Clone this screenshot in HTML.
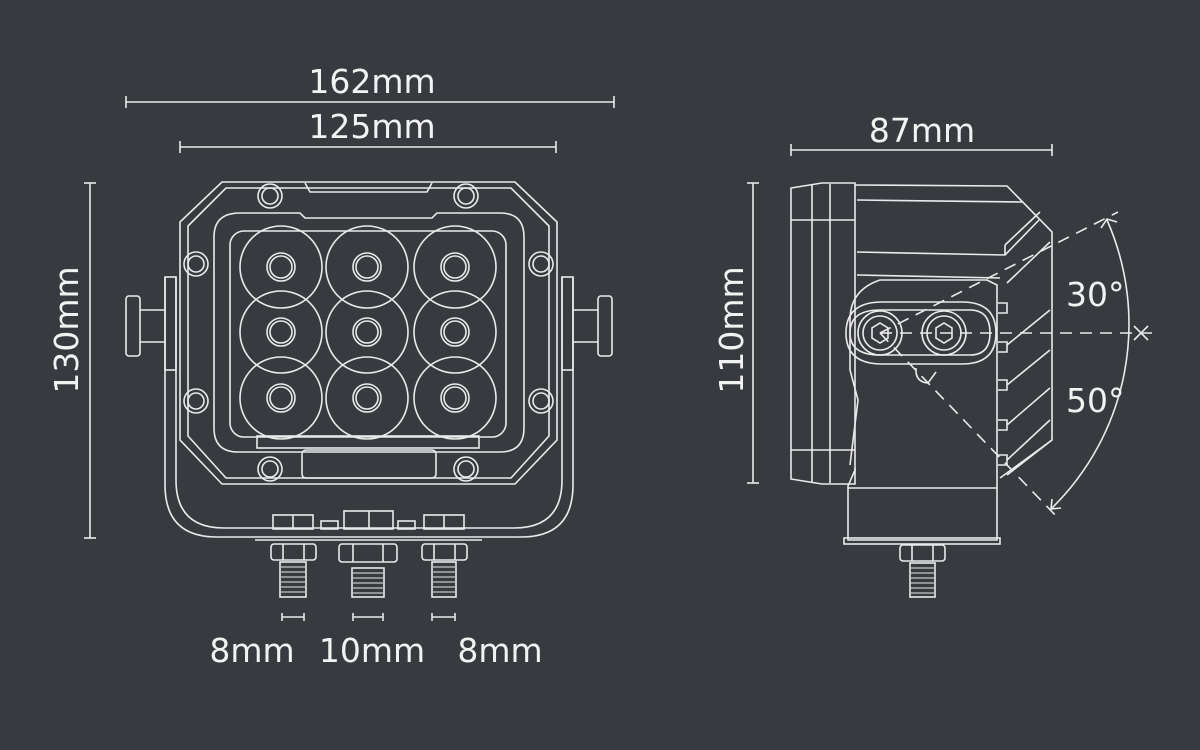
<!DOCTYPE html>
<html><head><meta charset="utf-8"><style>
html,body{margin:0;padding:0;background:#373b3f;}
svg{display:block}
text{font-family:"DejaVu Sans","Liberation Sans",sans-serif;fill:#f2f2f2;font-size:33px}
</style></head><body>
<svg width="1200" height="750" viewBox="0 0 1200 750" xmlns="http://www.w3.org/2000/svg">
<rect width="1200" height="750" fill="#373b3f"/>
<g stroke="#eaeaea" stroke-width="1.6" fill="none">
<!-- dimension lines -->
<line x1="126" y1="102" x2="614" y2="102"/><line x1="126" y1="96" x2="126" y2="108"/><line x1="614" y1="96" x2="614" y2="108"/>
<line x1="180" y1="147" x2="556" y2="147"/><line x1="180" y1="141" x2="180" y2="153"/><line x1="556" y1="141" x2="556" y2="153"/>
<line x1="90" y1="183" x2="90" y2="538"/><line x1="84" y1="183" x2="96" y2="183"/><line x1="84" y1="538" x2="96" y2="538"/>
<line x1="791" y1="150" x2="1052" y2="150"/><line x1="791" y1="144" x2="791" y2="156"/><line x1="1052" y1="144" x2="1052" y2="156"/>
<line x1="753" y1="183" x2="753" y2="483"/><line x1="747" y1="183" x2="759" y2="183"/><line x1="747" y1="483" x2="759" y2="483"/>
<line x1="282" y1="617" x2="304" y2="617"/><line x1="282" y1="613" x2="282" y2="621"/><line x1="304" y1="613" x2="304" y2="621"/>
<line x1="353" y1="617" x2="383" y2="617"/><line x1="353" y1="613" x2="353" y2="621"/><line x1="383" y1="613" x2="383" y2="621"/>
<line x1="432" y1="617" x2="455" y2="617"/><line x1="432" y1="613" x2="432" y2="621"/><line x1="455" y1="613" x2="455" y2="621"/>

<!-- FRONT VIEW -->
<!-- bracket -->
<path d="M165 277 V485 Q165 537 217 537 H521 Q573 537 573 485 V277"/>
<path d="M176 277 V480 Q176 528 224 528 H514 Q562 528 562 480 V277"/>
<rect x="165" y="277" width="11" height="93"/><rect x="562" y="277" width="11" height="93"/>
<rect x="126" y="296" width="14" height="60" rx="3"/><line x1="140" y1="310" x2="165" y2="310"/><line x1="140" y1="342" x2="165" y2="342"/>
<rect x="598" y="296" width="14" height="60" rx="3"/><line x1="573" y1="310" x2="598" y2="310"/><line x1="573" y1="342" x2="598" y2="342"/>
<!-- housing -->
<path d="M222 182 H515 L557 222 V440 L515 484 H222 L180 440 V222 Z" fill="#373b3f"/>
<path d="M226 188 H511 L549 226 V436 L511 478 H226 L188 436 V226 Z"/>
<path d="M305 183 L310 192 H427 L432 183"/>
<path d="M240 213 H300 L305 218 H432 L437 213 H500 Q524 213 524 237 V428 Q524 452 500 452 H238 Q214 452 214 428 V237 Q214 213 240 213 Z"/>
<rect x="302" y="450" width="134" height="28" rx="4"/>
<rect x="230" y="231" width="276" height="206" rx="14"/>
<rect x="257" y="436" width="222" height="12"/>
<g>
<circle cx="281" cy="267" r="41"/><circle cx="367" cy="267" r="41"/><circle cx="455" cy="267" r="41"/>
<circle cx="281" cy="332" r="41"/><circle cx="367" cy="332" r="41"/><circle cx="455" cy="332" r="41"/>
<circle cx="281" cy="398" r="41"/><circle cx="367" cy="398" r="41"/><circle cx="455" cy="398" r="41"/>
</g>
<g>
<circle cx="281" cy="267" r="14"/><circle cx="367" cy="267" r="14"/><circle cx="455" cy="267" r="14"/>
<circle cx="281" cy="332" r="14"/><circle cx="367" cy="332" r="14"/><circle cx="455" cy="332" r="14"/>
<circle cx="281" cy="398" r="14"/><circle cx="367" cy="398" r="14"/><circle cx="455" cy="398" r="14"/>
<circle cx="281" cy="267" r="11"/><circle cx="367" cy="267" r="11"/><circle cx="455" cy="267" r="11"/>
<circle cx="281" cy="332" r="11"/><circle cx="367" cy="332" r="11"/><circle cx="455" cy="332" r="11"/>
<circle cx="281" cy="398" r="11"/><circle cx="367" cy="398" r="11"/><circle cx="455" cy="398" r="11"/>
</g>
<!-- bolts -->
<g>
<circle cx="270" cy="196" r="12"/><circle cx="270" cy="196" r="8"/>
<circle cx="466" cy="196" r="12"/><circle cx="466" cy="196" r="8"/>
<circle cx="196" cy="264" r="12"/><circle cx="196" cy="264" r="8"/>
<circle cx="541" cy="264" r="12"/><circle cx="541" cy="264" r="8"/>
<circle cx="196" cy="401" r="12"/><circle cx="196" cy="401" r="8"/>
<circle cx="541" cy="401" r="12"/><circle cx="541" cy="401" r="8"/>
<circle cx="270" cy="469" r="12"/><circle cx="270" cy="469" r="8"/>
<circle cx="466" cy="469" r="12"/><circle cx="466" cy="469" r="8"/>
</g>
<!-- bottom connectors -->
<rect x="273" y="515" width="40" height="14"/><line x1="293" y1="515" x2="293" y2="529"/>
<rect x="344" y="511" width="49" height="18"/><line x1="369" y1="511" x2="369" y2="529"/>
<rect x="424" y="515" width="40" height="14"/><line x1="444" y1="515" x2="444" y2="529"/>
<rect x="321" y="521" width="17" height="8"/><rect x="398" y="521" width="17" height="8"/>
<line x1="255" y1="540" x2="482" y2="540"/>
<rect x="271" y="544" width="45" height="16" rx="3"/><line x1="283" y1="544" x2="283" y2="560"/><line x1="304" y1="544" x2="304" y2="560"/>
<rect x="339" y="544" width="58" height="18" rx="3"/><line x1="353" y1="544" x2="353" y2="562"/><line x1="383" y1="544" x2="383" y2="562"/>
<rect x="422" y="544" width="45" height="16" rx="3"/><line x1="434" y1="544" x2="434" y2="560"/><line x1="455" y1="544" x2="455" y2="560"/>
<rect x="280" y="562" width="26" height="35"/><rect x="352" y="568" width="32" height="29"/><rect x="432" y="562" width="24" height="35"/>
</g>
<g stroke="#eaeaea" stroke-width="1">
<path d="M281 567 h24 M281 572 h24 M281 577 h24 M281 582 h24 M281 587 h24 M281 592 h24"/>
<path d="M353 573 h30 M353 578 h30 M353 583 h30 M353 588 h30 M353 593 h30"/>
<path d="M433 567 h22 M433 572 h22 M433 577 h22 M433 582 h22 M433 587 h22 M433 592 h22"/>
</g>

<!-- SIDE VIEW -->
<g stroke="#eaeaea" stroke-width="1.6" fill="none">
<path d="M791 188 L822 183 H855 V484 H822 L791 479 Z"/>
<line x1="812" y1="184" x2="812" y2="483"/><line x1="830" y1="184" x2="830" y2="483"/>
<line x1="791" y1="220" x2="855" y2="220"/><line x1="791" y1="450" x2="855" y2="450"/>
<path d="M855 185 L1007 186 L1052 232 V440 L1000 478"/>
<path d="M857 200 L1022 202"/>
<path d="M857 252 L1005 255 L1039 220"/><path d="M857 275 L1000 278"/>
<path d="M1005 245 V255 M1005 245 L1040 212"/>
<path d="M1007 283 L1050 242 M1007 345 L1050 310 M1007 385 L1050 350 M1007 425 L1050 388 M1007 460 L1050 420 M1007 475 L1052 440"/>
<path d="M998 303 h9 v10 h-9 M998 342 h9 v10 h-9 M998 380 h9 v10 h-9 M998 420 h9 v10 h-9 M998 455 h9 v10 h-9"/>
<path d="M855 468 V470 L848 486 V540 H997 V285 L987 280 H880 Q850 290 850 320 V370 L858 400 L850 465"/>
<line x1="848" y1="488" x2="997" y2="488"/>
<rect x="844" y="538" width="156" height="6"/>
<path d="M880 310 H970 Q990 310 990 333 Q990 355 970 355 H880 Q850 355 850 333 Q850 310 880 310 Z"/>
<path d="M882 302 H962 Q996 302 996 333 Q996 364 962 364 H882 Q846 364 846 333 Q846 302 882 302 Z"/>
<circle cx="880" cy="333" r="22"/><circle cx="880" cy="333" r="17"/>
<circle cx="944" cy="333" r="22"/><circle cx="944" cy="333" r="17"/>
<path d="M880 323 l8 5 v10 l-8 5 l-8 -5 v-10 z"/><path d="M944 323 l8 5 v10 l-8 5 l-8 -5 v-10 z"/>
<path d="M916 368 Q915 382 928 383 L936 372"/>
<rect x="900" y="545" width="45" height="16" rx="3"/><line x1="912" y1="545" x2="912" y2="561"/><line x1="933" y1="545" x2="933" y2="561"/>
<rect x="910" y="563" width="25" height="34"/>
</g>
<g stroke="#eaeaea" stroke-width="1"><path d="M911 568 h23 M911 573 h23 M911 578 h23 M911 583 h23 M911 588 h23 M911 593 h23"/></g>
<!-- angle lines -->
<g stroke="#eaeaea" stroke-width="1.6" fill="none">
<line x1="880" y1="333" x2="1155" y2="333" stroke-dasharray="12 8"/>
<line x1="880" y1="333" x2="1118" y2="212" stroke-dasharray="12 8"/>
<line x1="880" y1="333" x2="1058" y2="518" stroke-dasharray="12 8"/>
<path d="M1107 220 A258 258 0 0 1 1052 508"/>
<path d="M1101 228 L1107 219 L1117 222"/>
<path d="M1052 499 L1051 509 L1061 508"/>
<path d="M1134 326 L1148 340 M1148 326 L1134 340"/>
</g>
<!-- labels -->
<text x="372" y="93" text-anchor="middle">162mm</text>
<text x="372" y="138" text-anchor="middle">125mm</text>
<text x="922" y="142" text-anchor="middle">87mm</text>
<text transform="translate(78,330) rotate(-90)" text-anchor="middle">130mm</text>
<text transform="translate(743,330) rotate(-90)" text-anchor="middle">110mm</text>
<text x="252" y="662" text-anchor="middle">8mm</text>
<text x="372" y="662" text-anchor="middle">10mm</text>
<text x="500" y="662" text-anchor="middle">8mm</text>
<text x="1066" y="306">30°</text>
<text x="1066" y="412">50°</text>
</svg>
</body></html>
